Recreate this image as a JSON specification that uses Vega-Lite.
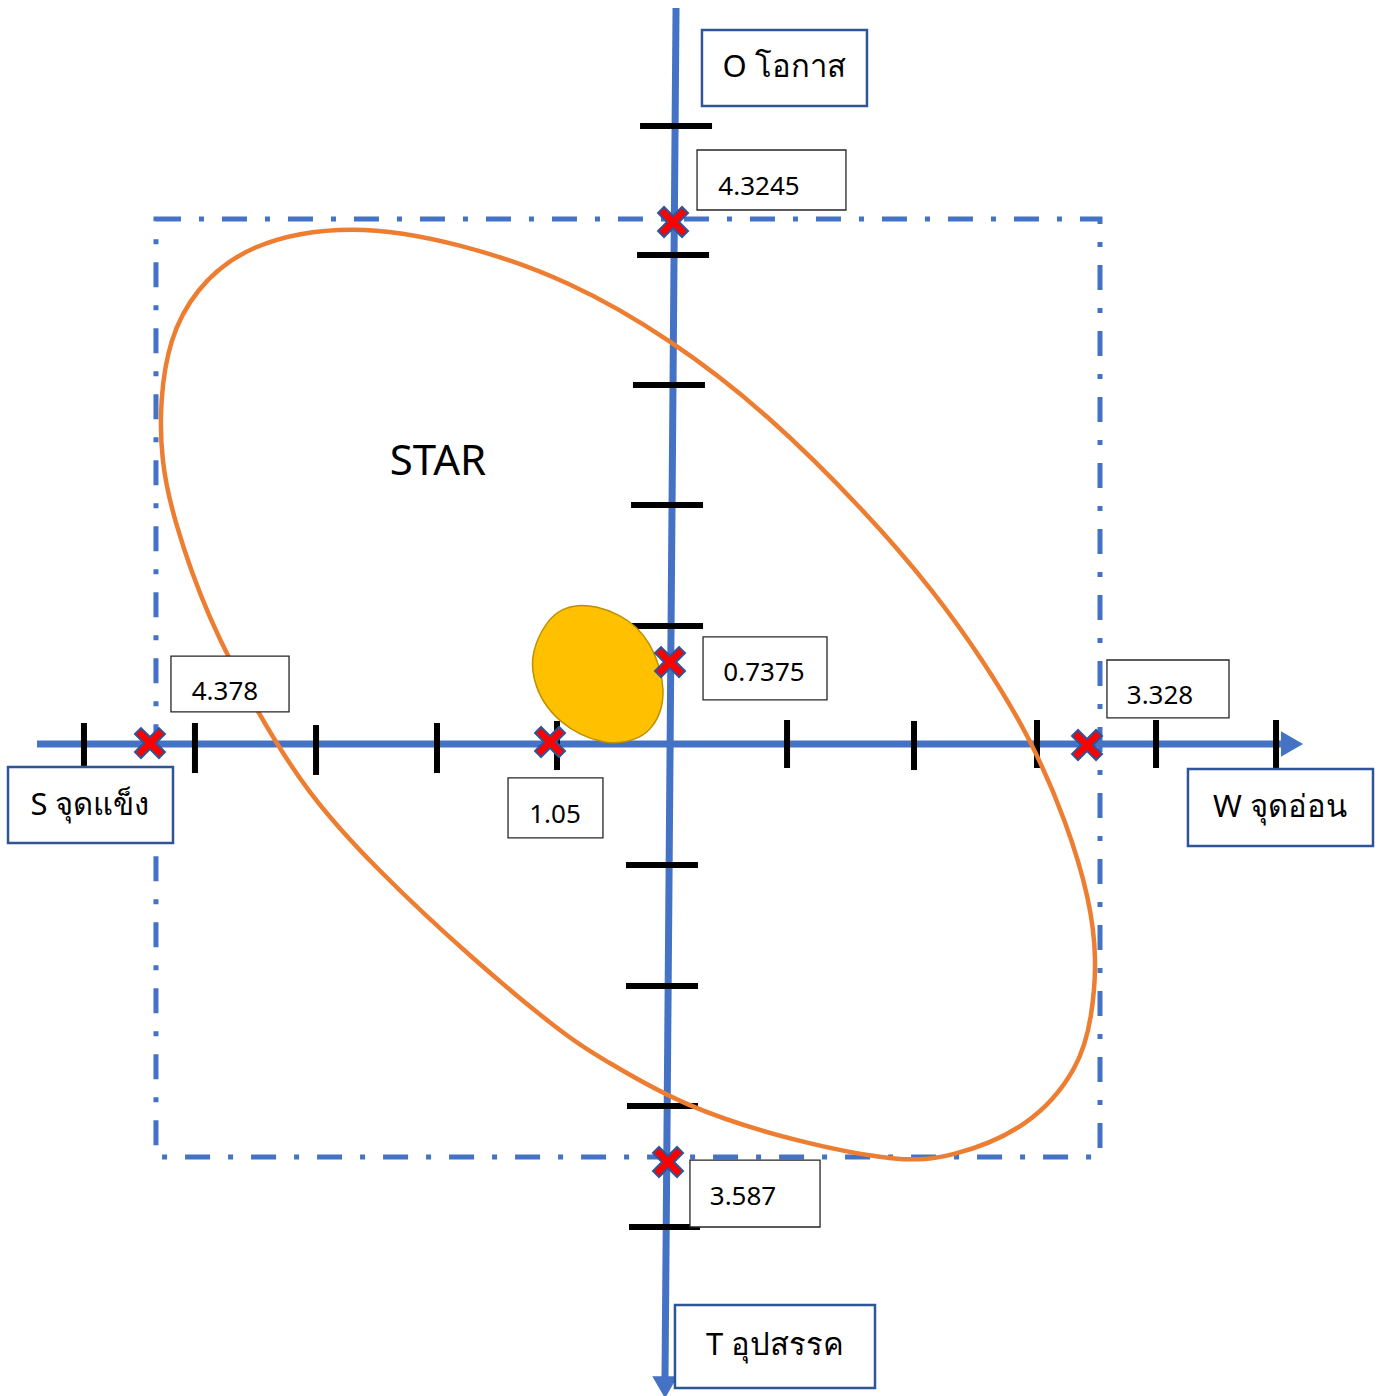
{
  "$schema": "https://vega.github.io/schema/vega-lite/v6.json",
  "width": 1381,
  "height": 1396,
  "autosize": "none",
  "padding": 0,
  "background": "white",
  "config": {"view": {"stroke": null}},
  "datasets": {
    "box": [{"x1": -4.292, "x2": 3.575, "y1": 4.375, "y2": -3.442}],
    "axes": [
      {"axis": "SW", "x1": -5.283, "y1": 0.0, "x2": 5.083, "y2": 0.0},
      {"axis": "OT", "x1": 0.042, "y1": 6.133, "x2": -0.05, "y2": -5.283}
    ],
    "arrowR": [{"x": 5.175, "y": 0.0}],
    "arrowD": [{"x": -0.05, "y": -5.36}],
    "hticks": [
      {"x": -4.892, "y1": 0.175, "y2": -0.183},
      {"x": -3.967, "y1": 0.175, "y2": -0.242},
      {"x": -2.958, "y1": 0.158, "y2": -0.258},
      {"x": -1.95, "y1": 0.175, "y2": -0.242},
      {"x": -0.95, "y1": 0.192, "y2": -0.217},
      {"x": 0.967, "y1": 0.2, "y2": -0.2},
      {"x": 2.025, "y1": 0.192, "y2": -0.217},
      {"x": 3.05, "y1": 0.2, "y2": -0.2},
      {"x": 4.042, "y1": 0.2, "y2": -0.2},
      {"x": 5.042, "y1": 0.2, "y2": -0.217}
    ],
    "vticks": [
      {"y": 5.15, "x1": -0.258, "x2": 0.342},
      {"y": 4.075, "x1": -0.283, "x2": 0.317},
      {"y": 2.992, "x1": -0.317, "x2": 0.283},
      {"y": 1.992, "x1": -0.333, "x2": 0.267},
      {"y": 0.983, "x1": -0.325, "x2": 0.267},
      {"y": -1.008, "x1": -0.375, "x2": 0.225},
      {"y": -2.017, "x1": -0.375, "x2": 0.225},
      {"y": -3.017, "x1": -0.367, "x2": 0.225},
      {"y": -4.025, "x1": -0.35, "x2": 0.242}
    ],
    "ellipse": [
      {"i": 1, "x": -2.667, "y": 4.342},
      {"i": 2, "x": -1.75, "y": 4.175},
      {"i": 3, "x": -0.85, "y": 3.867},
      {"i": 4, "x": 0.008, "y": 3.367},
      {"i": 5, "x": 0.8, "y": 2.758},
      {"i": 6, "x": 1.633, "y": 1.925},
      {"i": 7, "x": 2.183, "y": 1.283},
      {"i": 8, "x": 2.6, "y": 0.7},
      {"i": 9, "x": 2.992, "y": 0.058},
      {"i": 10, "x": 3.3, "y": -0.658},
      {"i": 11, "x": 3.492, "y": -1.3},
      {"i": 12, "x": 3.55, "y": -1.8},
      {"i": 13, "x": 3.508, "y": -2.275},
      {"i": 14, "x": 3.408, "y": -2.692},
      {"i": 15, "x": 2.992, "y": -3.2},
      {"i": 16, "x": 2.325, "y": -3.45},
      {"i": 17, "x": 1.908, "y": -3.483},
      {"i": 18, "x": 1.075, "y": -3.325},
      {"i": 19, "x": 0.1, "y": -3.025},
      {"i": 20, "x": -0.592, "y": -2.608},
      {"i": 21, "x": -0.817, "y": -2.483},
      {"i": 22, "x": -1.65, "y": -1.8},
      {"i": 23, "x": -2.483, "y": -1.017},
      {"i": 24, "x": -3.033, "y": -0.408},
      {"i": 25, "x": -3.45, "y": 0.267},
      {"i": 26, "x": -3.867, "y": 1.058},
      {"i": 27, "x": -4.15, "y": 1.883},
      {"i": 28, "x": -4.25, "y": 2.367},
      {"i": 29, "x": -4.258, "y": 2.867},
      {"i": 30, "x": -4.183, "y": 3.367},
      {"i": 31, "x": -3.975, "y": 3.783},
      {"i": 32, "x": -3.533, "y": 4.175}
    ],
    "blob": [
      {"i": 1, "x": -0.786, "y": 1.158},
      {"i": 2, "x": -0.619, "y": 1.15},
      {"i": 3, "x": -0.425, "y": 1.075},
      {"i": 4, "x": -0.286, "y": 0.978},
      {"i": 5, "x": -0.175, "y": 0.839},
      {"i": 6, "x": -0.092, "y": 0.644},
      {"i": 7, "x": -0.058, "y": 0.45},
      {"i": 8, "x": -0.078, "y": 0.283},
      {"i": 9, "x": -0.148, "y": 0.144},
      {"i": 10, "x": -0.258, "y": 0.048},
      {"i": 11, "x": -0.425, "y": 0.006},
      {"i": 12, "x": -0.564, "y": 0.011},
      {"i": 13, "x": -0.758, "y": 0.075},
      {"i": 14, "x": -0.925, "y": 0.186},
      {"i": 15, "x": -1.064, "y": 0.339},
      {"i": 16, "x": -1.148, "y": 0.533},
      {"i": 17, "x": -1.169, "y": 0.756},
      {"i": 18, "x": -1.036, "y": 1.033},
      {"i": 19, "x": -0.897, "y": 1.131}
    ],
    "axisBoxes": [
      {"label": "O โอกาส", "x1": 0.258, "x2": 1.633, "y1": 5.95, "y2": 5.317, "tx": 0.942, "ty": 5.633},
      {"label": "S จุดแข็ง", "x1": -5.525, "x2": -4.15, "y1": -0.192, "y2": -0.825, "tx": -4.842, "ty": -0.517},
      {"label": "W จุดอ่อน", "x1": 4.308, "x2": 5.85, "y1": -0.208, "y2": -0.85, "tx": 5.075, "ty": -0.533},
      {"label": "T อุปสรรค", "x1": 0.033, "x2": 1.7, "y1": -4.675, "y2": -5.367, "tx": 0.867, "ty": -5.017}
    ],
    "numBoxes": [
      {"label": "4.3245", "x1": 0.217, "x2": 1.458, "y1": 4.95, "y2": 4.45, "tx": 0.733, "ty": 4.642},
      {"label": "0.7375", "x1": 0.267, "x2": 1.3, "y1": 0.892, "y2": 0.367, "tx": 0.775, "ty": 0.592},
      {"label": "4.378", "x1": -4.167, "x2": -3.183, "y1": 0.733, "y2": 0.267, "tx": -3.717, "ty": 0.433},
      {"label": "3.328", "x1": 3.633, "x2": 4.65, "y1": 0.7, "y2": 0.217, "tx": 4.075, "ty": 0.4},
      {"label": "1.05", "x1": -1.358, "x2": -0.567, "y1": -0.283, "y2": -0.783, "tx": -0.967, "ty": -0.592},
      {"label": "3.587", "x1": 0.158, "x2": 1.242, "y1": -3.467, "y2": -4.025, "tx": 0.6, "ty": -3.775}
    ],
    "star": [{"label": "STAR", "x": -1.942, "y": 2.35}],
    "markers": [
      {"name": "S", "x": -4.342, "y": 0.008},
      {"name": "S-W", "x": -1.008, "y": 0.017},
      {"name": "W", "x": 3.467, "y": -0.008},
      {"name": "O", "x": 0.017, "y": 4.35},
      {"name": "O-T", "x": -0.008, "y": 0.683},
      {"name": "T", "x": -0.025, "y": -3.483}
    ]
  },
  "layer": [
    {
      "data": {"name": "box"},
      "mark": {"type": "rect", "filled": false, "stroke": "#4472C4", "strokeWidth": 5, "strokeDash": [25, 18, 5, 18]},
      "encoding": {
        "x": {"field": "x1", "type": "quantitative", "scale": {"domain": [-5.5917, 5.9167], "nice": false, "zero": false}, "axis": null},
        "x2": {"field": "x2"},
        "y": {"field": "y1", "type": "quantitative", "scale": {"domain": [-5.4333, 6.2], "nice": false, "zero": false}, "axis": null},
        "y2": {"field": "y2"}
      }
    },
    {
      "data": {"name": "axes"},
      "mark": {"type": "rule", "stroke": "#4472C4", "strokeWidth": 7, "strokeCap": "butt"},
      "encoding": {
        "x": {"field": "x1", "type": "quantitative"},
        "x2": {"field": "x2"},
        "y": {"field": "y1", "type": "quantitative"},
        "y2": {"field": "y2"}
      }
    },
    {
      "data": {"name": "arrowR"},
      "mark": {"type": "point", "shape": "triangle-right", "filled": true, "color": "#4472C4", "size": 650, "opacity": 1},
      "encoding": {
        "x": {"field": "x", "type": "quantitative"},
        "y": {"field": "y", "type": "quantitative"}
      }
    },
    {
      "data": {"name": "arrowD"},
      "mark": {"type": "point", "shape": "triangle-down", "filled": true, "color": "#4472C4", "size": 650, "opacity": 1},
      "encoding": {
        "x": {"field": "x", "type": "quantitative"},
        "y": {"field": "y", "type": "quantitative"}
      }
    },
    {
      "data": {"name": "hticks"},
      "mark": {"type": "rule", "stroke": "#000000", "strokeWidth": 6, "strokeCap": "butt"},
      "encoding": {
        "x": {"field": "x", "type": "quantitative"},
        "y": {"field": "y1", "type": "quantitative"},
        "y2": {"field": "y2"}
      }
    },
    {
      "data": {"name": "vticks"},
      "mark": {"type": "rule", "stroke": "#000000", "strokeWidth": 6, "strokeCap": "butt"},
      "encoding": {
        "x": {"field": "x1", "type": "quantitative"},
        "x2": {"field": "x2"},
        "y": {"field": "y", "type": "quantitative"}
      }
    },
    {
      "data": {"name": "ellipse"},
      "mark": {"type": "line", "interpolate": "basis-closed", "stroke": "#ED7D31", "strokeWidth": 4.5},
      "encoding": {
        "x": {"field": "x", "type": "quantitative"},
        "y": {"field": "y", "type": "quantitative"},
        "order": {"field": "i", "type": "quantitative"}
      }
    },
    {
      "data": {"name": "blob"},
      "mark": {"type": "line", "interpolate": "basis-closed", "stroke": "#BF9000", "strokeWidth": 1.5, "fill": "#FFC000"},
      "encoding": {
        "x": {"field": "x", "type": "quantitative"},
        "y": {"field": "y", "type": "quantitative"},
        "order": {"field": "i", "type": "quantitative"}
      }
    },
    {
      "data": {"name": "axisBoxes"},
      "mark": {"type": "rect", "fill": "white", "stroke": "#2F5597", "strokeWidth": 2.5},
      "encoding": {
        "x": {"field": "x1", "type": "quantitative"},
        "x2": {"field": "x2"},
        "y": {"field": "y1", "type": "quantitative"},
        "y2": {"field": "y2"}
      }
    },
    {
      "data": {"name": "axisBoxes"},
      "mark": {"type": "text", "font": "Noto Sans", "fontSize": 31, "color": "black", "align": "center", "baseline": "middle"},
      "encoding": {
        "x": {"field": "tx", "type": "quantitative"},
        "y": {"field": "ty", "type": "quantitative"},
        "text": {"field": "label"}
      }
    },
    {
      "data": {"name": "numBoxes"},
      "mark": {"type": "rect", "fill": "white", "stroke": "#262626", "strokeWidth": 1.3},
      "encoding": {
        "x": {"field": "x1", "type": "quantitative"},
        "x2": {"field": "x2"},
        "y": {"field": "y1", "type": "quantitative"},
        "y2": {"field": "y2"}
      }
    },
    {
      "data": {"name": "numBoxes"},
      "mark": {"type": "text", "font": "Noto Sans", "fontSize": 26, "color": "black", "align": "center", "baseline": "middle"},
      "encoding": {
        "x": {"field": "tx", "type": "quantitative"},
        "y": {"field": "ty", "type": "quantitative"},
        "text": {"field": "label"}
      }
    },
    {
      "data": {"name": "star"},
      "mark": {"type": "text", "font": "Noto Sans", "fontSize": 42, "color": "black", "align": "center", "baseline": "middle"},
      "encoding": {
        "x": {"field": "x", "type": "quantitative"},
        "y": {"field": "y", "type": "quantitative"},
        "text": {"field": "label"}
      }
    },
    {
      "data": {"name": "markers"},
      "mark": {
        "type": "point",
        "shape": "M-1,-0.6L-0.6,-1L0,-0.4L0.6,-1L1,-0.6L0.4,0L1,0.6L0.6,1L0,0.4L-0.6,1L-1,0.6L-0.4,0Z",
        "filled": true,
        "fill": "#FF0000",
        "stroke": "#2F5597",
        "strokeWidth": 2,
        "size": 900,
        "opacity": 1
      },
      "encoding": {
        "x": {"field": "x", "type": "quantitative"},
        "y": {"field": "y", "type": "quantitative"}
      }
    }
  ]
}
